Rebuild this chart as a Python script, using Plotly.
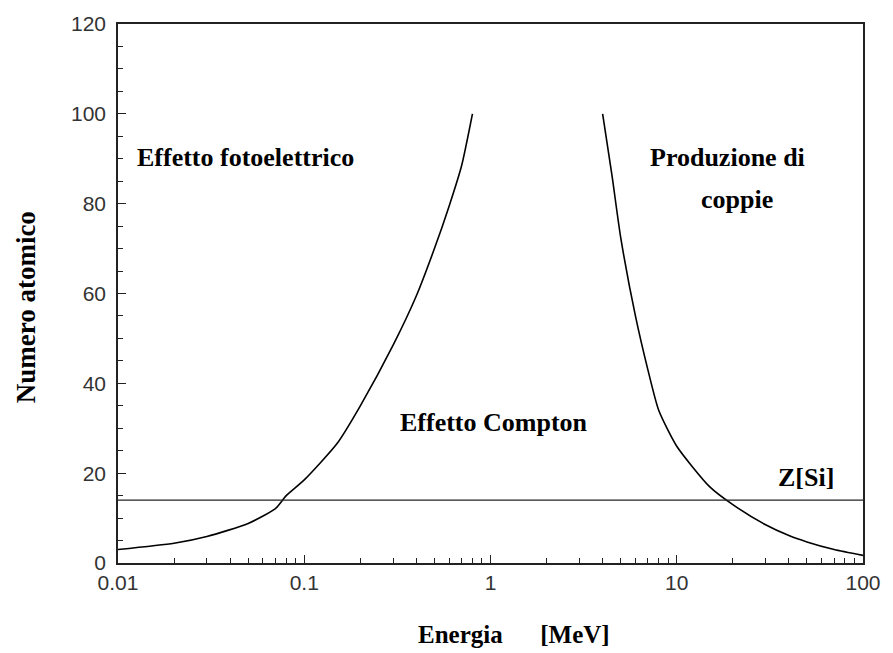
import plotly.graph_objects as go

# Photoelectric / Compton boundary
left_E = [0.01, 0.02, 0.03, 0.05, 0.07, 0.08, 0.1, 0.15, 0.2, 0.3, 0.4, 0.5, 0.6, 0.7, 0.8]
left_Z = [3.0, 4.4, 5.9, 8.8, 12.1, 15.0, 18.5, 26.6, 35.0, 48.5, 59.5, 70.0, 79.5, 88.5, 100.0]

# Compton / pair production boundary
right_E = [4.0, 4.5, 5.0, 6.0, 7.0, 8.0, 10.0, 15.0, 20.0, 30.0, 40.0, 50.0, 70.0, 100.0]
right_Z = [100.0, 86.0, 72.5, 55.0, 43.0, 34.0, 26.0, 17.0, 13.0, 8.5, 6.1, 4.7, 3.0, 1.7]

# Silicon atomic number
z_si = 14
si_E = [0.01, 100]

x_tickvals = [0.01, 0.1, 1, 10, 100]
x_ticktext = ["0.01", "0.1", "1", "10", "100"]
y_tickvals = [0, 20, 40, 60, 80, 100, 120]

fig = go.Figure()
fig.add_trace(go.Scatter(x=left_E, y=left_Z, mode="lines",
                         line=dict(color="black", width=1.6, shape="spline", smoothing=0.6),
                         showlegend=False))
fig.add_trace(go.Scatter(x=right_E, y=right_Z, mode="lines",
                         line=dict(color="black", width=1.6, shape="spline", smoothing=0.6),
                         showlegend=False))
fig.add_trace(go.Scatter(x=si_E, y=[z_si, z_si], mode="lines",
                         line=dict(color="#222", width=1.4), showlegend=False))

serif = "Liberation Serif, Times New Roman, serif"
sans = "Liberation Sans, Arial, sans-serif"
ann_font = dict(family=serif, size=26, color="black")

annotations = [
    dict(x=-1.318, y=90.3, text="<b>Effetto fotoelettrico</b>"),
    dict(x=1.271, y=90.2, text="<b>Produzione di</b>"),
    dict(x=1.324, y=81.0, text="<b>coppie</b>"),
    dict(x=0.0185, y=31.3, text="<b>Effetto Compton</b>"),
    dict(x=1.6935, y=19.0, text="<b>Z[Si]</b>"),
]
for a in annotations:
    a.update(xref="x", yref="y", showarrow=False, font=ann_font,
             xanchor="center", yanchor="middle")
    fig.add_annotation(**a)

fig.add_annotation(x=-0.123, y=0.475, xref="paper", yref="paper",
                   text="<b>Numero atomico</b>", textangle=-90, showarrow=False,
                   font=dict(family=serif, size=27, color="black"),
                   xanchor="center", yanchor="middle")
fig.add_annotation(x=0.532, y=-0.133, xref="paper", yref="paper",
                   text="<b>Energia&nbsp;&nbsp;&nbsp;&nbsp;&nbsp; [MeV]</b>", showarrow=False,
                   font=dict(family=serif, size=25, color="black"),
                   xanchor="center", yanchor="middle")

fig.update_xaxes(type="log", range=[-2, 2], tickvals=x_tickvals, ticktext=x_ticktext,
                 ticks="inside", ticklen=8, tickwidth=1.3, tickcolor="#222",
                 showline=True, linecolor="#222", linewidth=1.6, mirror=True,
                 showgrid=False, zeroline=False,
                 tickfont=dict(family=sans, size=21, color="#333"),
                 minor=dict(ticks="inside", ticklen=5, tickwidth=1.1, tickcolor="#222",
                            dtick="D1", showgrid=False))
fig.update_yaxes(range=[0, 120], tickvals=y_tickvals,
                 ticks="inside", ticklen=8, tickwidth=1.3, tickcolor="#222",
                 showline=True, linecolor="#222", linewidth=1.6, mirror=True,
                 showgrid=False, zeroline=False, ticklabelstandoff=6,
                 tickfont=dict(family=sans, size=21, color="#333"),
                 minor=dict(ticks="inside", ticklen=5, tickwidth=1.1, tickcolor="#222",
                            dtick=5, showgrid=False))

fig.update_layout(width=893, height=653, margin=dict(l=118, r=18, t=20, b=90),
                  plot_bgcolor="white", paper_bgcolor="white")

fig.write_html("out.html")
